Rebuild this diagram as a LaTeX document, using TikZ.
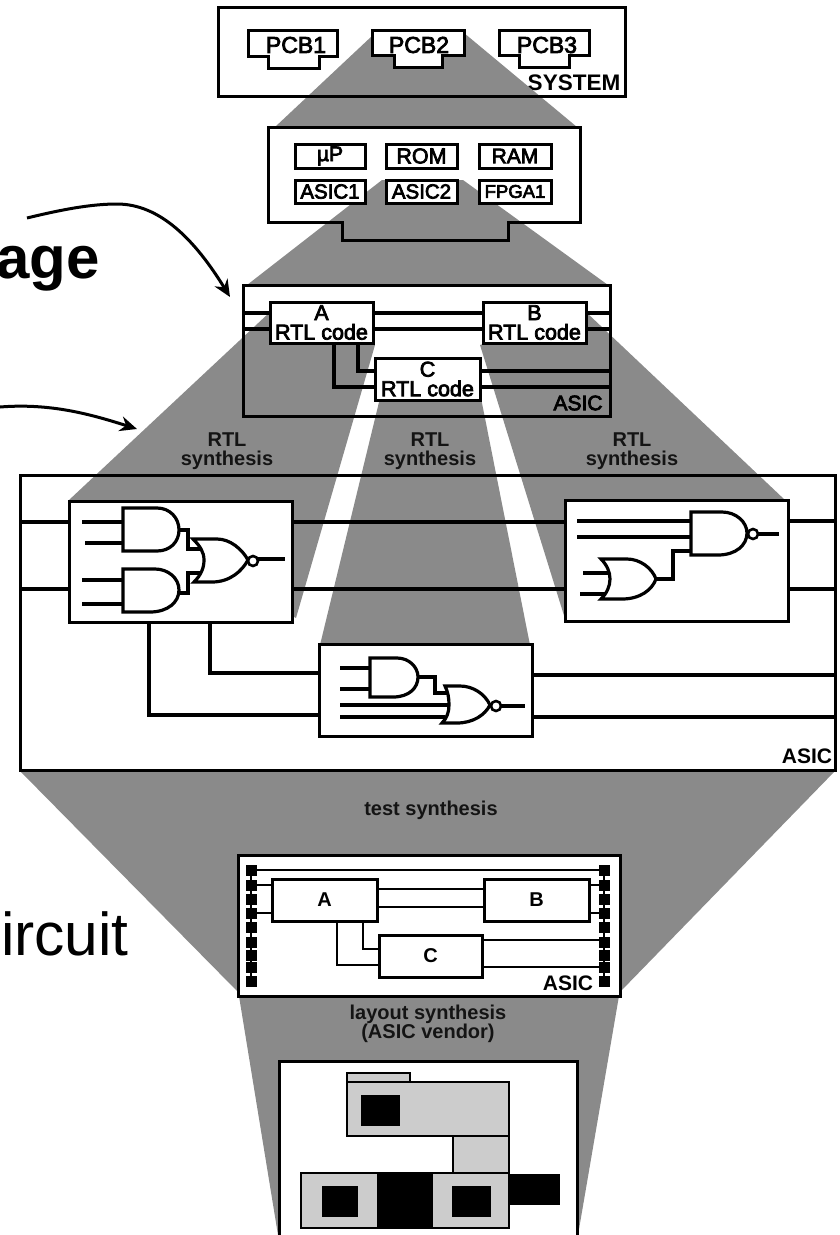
\documentclass[tikz,border=0pt]{standalone}
\usepackage{fontspec}
\setmainfont{Liberation Sans}
\newfontfamily\medf[FakeBold=3.5]{Liberation Sans}
\usetikzlibrary{arrows.meta,calc}
\definecolor{dith}{gray}{0.54}
\definecolor{cellg}{gray}{0.80}
\tikzset{
  cone/.style={fill=dith,draw=none},
  wire/.style={line width=3.2pt,line join=miter},
  thin wire/.style={line width=2.5pt,line join=miter},
  gate/.style={line width=3.2pt,fill=white,line join=miter},
  frame/.style={draw,fill=white,line width=3pt},
  edgeline/.style={line width=3pt,line join=miter},
  lbl/.style={inner sep=0pt,outer sep=0pt,font=\medf\fontsize{23}{19}\selectfont,align=center,text=black},
  dlbl/.style={inner sep=0pt,outer sep=0pt,font=\bfseries\fontsize{20}{19}\selectfont,align=center,text=black!92},
  pad/.style={fill=black,draw=none,minimum size=11pt,inner sep=0pt,outer sep=0pt},
  curvearrow/.style={line width=3pt,-{Stealth[length=17pt,width=15pt]}},
  cell/.style={draw,fill=cellg,line width=2pt},
  ink/.style={fill=black,draw=none}
}
% \bx{name}{x1}{y1}{x2}{y2}{extra}{text}
\newcommand{\bx}[7]{%
  \pgfmathsetmacro{\bxw}{#4-#2}\pgfmathsetmacro{\bxh}{#5-#3}%
  \node[frame,minimum width=\bxw pt,minimum height=\bxh pt,inner sep=0pt,outer sep=0pt,anchor=north west,#6] (#1) at (#2,#3) {#7};}
\begin{document}
\begin{tikzpicture}[x=1pt,y=-1pt]
\useasboundingbox (0,0) rectangle (840,1235);

% ---- left page fragments
\node[inner sep=0pt,anchor=base east,font=\bfseries\fontsize{60}{60}\selectfont] (frag1) at (100,278) {age};
\node[inner sep=0pt,anchor=base east,font=\fontsize{60.5}{60}\selectfont] (frag2) at (129,955) {ircuit};
\coordinate (arrA) at (27,218);
\coordinate (arrB) at (0,407);
\coordinate (tipA) at (230,297);
\coordinate (tipB) at (137,429);
\draw[curvearrow] (arrA) .. controls (60,210) and (90,204) .. (117,204) .. controls (160,204) and (195,240) .. (tipA);
\draw[curvearrow] (arrB) .. controls (50,403) and (90,414) .. (tipB);

% ---- SYSTEM
\bx{sys}{218}{7}{625}{96}{}{}
\node[lbl,font=\bfseries\fontsize{22.5}{22}\selectfont] (syslabel) at (574,83) {SYSTEM};
% cone system -> board
\fill[cone] (372,36) -- (464,33) -- (577,127) -- (275,127) -- cycle;
\draw[edgeline] (218,96) -- (625,96);
\draw[frame] (248,30) -- (337,30) -- (337,56) -- (319,56) -- (319,68) -- (268,68) -- (268,56) -- (248,56) -- cycle;
\draw[frame] (372,30) -- (464,30) -- (464,55) -- (442,55) -- (442,67) -- (394,67) -- (394,55) -- (372,55) -- cycle;
\draw[frame] (499,30) -- (589,30) -- (589,55) -- (569,55) -- (569,67) -- (519,67) -- (519,55) -- (499,55) -- cycle;
\node[lbl] (pcb1) at (296,45) {PCB1};
\node[lbl] (pcb2) at (419,45) {PCB2};
\node[lbl] (pcb3) at (547,45) {PCB3};

% ---- board
\draw[frame] (268,127) -- (580,127) -- (580,222) -- (508,222) -- (508,240) -- (342,240) -- (342,222) -- (268,222) -- cycle;
\fill[cone] (382,180) -- (463,180) -- (608,285) -- (247,285) -- cycle;
\draw[edgeline] (268,222) -- (342,222) -- (342,240) -- (508,240) -- (508,222) -- (580,222);
\bx{up}{295}{144}{365}{168}{}{\medf\fontsize{21}{21}\selectfont\textmu P}
\bx{rom}{386}{144}{457}{168}{}{\medf\fontsize{21.5}{21}\selectfont ROM}
\bx{ram}{479}{144}{551}{168}{}{\medf\fontsize{21}{21}\selectfont RAM}
\bx{asica}{295}{180}{365}{203}{}{\medf\fontsize{20.5}{21}\selectfont ASIC1}
\bx{asicb}{386}{180}{457}{203}{}{\medf\fontsize{20.5}{21}\selectfont ASIC2}
\bx{fpga}{479}{180}{551}{203}{}{\medf\fontsize{18.5}{21}\selectfont FPGA1}

% ---- RTL level: frame then cones
\bx{asic}{243}{285}{610}{416}{}{}
\fill[cone] (270,312) -- (375,345) -- (296,618) -- (69,500) -- cycle;
\fill[cone] (380,398) -- (481,398) -- (530,645) -- (320,645) -- cycle;
\fill[cone] (480,345) -- (586,312) -- (785,500) -- (566,622) -- cycle;
\draw[edgeline] (243,285) -- (243,416) -- (610,416) -- (610,285);

% ---- RTL synthesis labels
\node[dlbl] (rtl1) at (227,451) {RTL\\synthesis};
\node[dlbl] (rtl2) at (430,451) {RTL\\synthesis};
\node[dlbl] (rtl3) at (632,451) {RTL\\synthesis};

% ---- RTL blocks
\bx{A}{270}{302}{373}{343}{font=\medf\fontsize{21.5}{19.5}\selectfont,align=center}{A\\RTL code}
\bx{B}{483}{302}{586}{343}{font=\medf\fontsize{21.5}{19.5}\selectfont,align=center}{B\\RTL code}
\bx{C}{375}{358}{480}{400}{font=\medf\fontsize{21.5}{19.5}\selectfont,align=center}{C\\RTL code}
\draw[wire] (asic.west |- 0,313) -- (A.west |- 0,313);
\draw[wire] (asic.west |- 0,329) -- (A.west |- 0,329);
\draw[wire] (A.east |- 0,313) -- (B.west |- 0,313);
\draw[wire] (A.east |- 0,329) -- (B.west |- 0,329);
\draw[wire] (B.east |- 0,313) -- (asic.east |- 0,313);
\draw[wire] (B.east |- 0,329) -- (asic.east |- 0,329);
\draw[wire] (C.east |- 0,371) -- (asic.east |- 0,371);
\draw[wire] (C.east |- 0,387) -- (asic.east |- 0,387);
\draw[wire] (A.south -| 358,0) |- (C.west |- 0,371);
\draw[wire] (A.south -| 334,0) |- (C.west |- 0,387);
\node[lbl,font=\medf\fontsize{21}{21}\selectfont] (asiclabel) at (578,403) {ASIC};

% ---- gate level frame
\coordinate (bigNW) at (20,475);
\coordinate (bigSE) at (835,770);
\draw[edgeline] (bigNW) rectangle (bigSE);

\bx{g1}{69}{501}{292}{622}{}{}
\bx{g2}{565}{500}{788}{621}{}{}
\bx{g3}{319}{644}{532}{736}{}{}
\draw[wire] (bigNW |- 0,522) -- (g1.west |- 0,522);
\draw[wire] (bigNW |- 0,589) -- (g1.west |- 0,589);
\draw[wire] (g1.east |- 0,522) -- (g2.west |- 0,522);
\draw[wire] (g1.east |- 0,589) -- (g2.west |- 0,589);
\draw[wire] (g2.east |- 0,521) -- (bigSE |- 0,521);
\draw[wire] (g2.east |- 0,589) -- (bigSE |- 0,589);
\draw[wire] (g3.east |- 0,675) -- (bigSE |- 0,675);
\draw[wire] (g3.east |- 0,717) -- (bigSE |- 0,717);
\draw[wire] (g1.south -| 210,0) |- (g3.west |- 0,673);
\draw[wire] (g1.south -| 149,0) |- (g3.west |- 0,715);
\node[lbl,font=\bfseries\fontsize{21}{21}\selectfont] (biglabel) at (807,756) {ASIC};

% gates in g1
\draw[wire] (82,522) -- (123,522);
\draw[wire] (85,543) -- (123,543);
\draw[wire] (82,580) -- (123,580);
\draw[wire] (82,604) -- (123,604);
\draw[gate] (123,508) -- (157,508) .. controls (170,508) and (179,518) .. (179,530) .. controls (179,542) and (170,551) .. (157,551) -- (123,551) -- cycle;
\draw[gate] (123,569) -- (155,569) .. controls (168,569) and (179,578) .. (179,590) .. controls (179,602) and (168,612) .. (150,612) -- (123,612) -- cycle;
\draw[wire] (179,530) -- (188,530) -- (188,549) -- (200,549);
\draw[wire] (179,593) -- (188,593) -- (188,573) -- (202,573);
\draw[gate] (193,539) -- (217,539) .. controls (230,539) and (242,549) .. (248,560) .. controls (242,571) and (230,582) .. (212,582) -- (194,582) .. controls (201,575) and (204,568) .. (204,560) .. controls (204,552) and (200,546) .. (193,539) -- cycle;
\draw[line width=2.6pt,fill=white] (253,561) circle[radius=5];
\draw[wire] (258,559) -- (285,559);

% gates in g2
\draw[wire] (577,521) -- (691,521);
\draw[wire] (577,537) -- (691,537);
\draw[wire] (583,573) -- (610,573);
\draw[wire] (580,594) -- (608,594);
\draw[wire] (656,579) -- (673,579) -- (673,551) -- (691,551);
\draw[gate] (691,512) -- (722,512) .. controls (736,512) and (747,522) .. (747,533) .. controls (747,545) and (736,555) .. (718,555) -- (691,555) -- cycle;
\draw[line width=2.6pt,fill=white] (753,534) circle[radius=5];
\draw[wire] (758,534) -- (779,534);
\draw[gate] (601,559) -- (627,559) .. controls (640,559) and (652,568) .. (656,579) .. controls (652,590) and (640,599) .. (622,599) -- (601,599) .. controls (607,593) and (610,586) .. (610,579) .. controls (610,572) and (607,565) .. (601,559) -- cycle;

% gates in g3
\draw[wire] (340,668) -- (370,668);
\draw[wire] (340,689) -- (370,689);
\draw[wire] (340,705) -- (449,705);
\draw[wire] (340,717) -- (445,717);
\draw[wire] (418,677) -- (435,677) -- (435,693) -- (448,693);
\draw[gate] (370,658) -- (397,658) .. controls (409,658) and (418,667) .. (418,677) .. controls (418,688) and (409,697) .. (393,697) -- (370,697) -- cycle;
\draw[gate] (445,686) -- (460,686) .. controls (473,686) and (485,694) .. (490,705) .. controls (485,715) and (473,723) .. (457,723) -- (442,723) .. controls (447,718) and (449,712) .. (449,705) .. controls (449,698) and (448,692) .. (445,686) -- cycle;
\draw[line width=2.6pt,fill=white] (496,706) circle[radius=5];
\draw[wire] (501,706) -- (525,706);

% ---- test synthesis cone
\fill[cone] (20,771) -- (835,771) -- (620,992) -- (238,992) -- cycle;
\draw[edgeline] (bigNW |- bigSE) -- (bigSE);
\node[dlbl] (testlbl) at (431,810) {test synthesis};

% ---- layout cone
\fill[cone] (238,990) -- (620,990) -- (578,1235) -- (278,1235) -- cycle;

% ---- ASIC with scan pads
\bx{top}{238}{855}{620}{996}{}{}
\foreach \yy [count=\i] in {870,885,899,913,927,942,955,967,981}{
  \node[pad] (pl\i) at (251,\yy) {};
  \node[pad] (pr\i) at (604,\yy) {};
}
\draw[thin wire] (pl1) -- (pl9);
\draw[thin wire] (pr1) -- (pr9);
\draw[thin wire] (pl1) -- (pr1);
\bx{tA}{272}{879}{377}{921}{font=\bfseries\fontsize{20}{20}\selectfont}{A}
\bx{tB}{484}{879}{589}{921}{font=\bfseries\fontsize{20}{20}\selectfont}{B}
\bx{tC}{379}{935}{482}{977}{font=\bfseries\fontsize{20}{20}\selectfont}{C}
\draw[thin wire] (pl2) -- (tA.west |- pl2);
\draw[thin wire] (pl4) -- (tA.west |- pl4);
\draw[thin wire] (tA.east |- 0,889) -- (tB.west |- 0,889);
\draw[thin wire] (tA.east |- 0,907) -- (tB.west |- 0,907);
\draw[thin wire] (tB.east |- pr2) -- (pr2);
\draw[thin wire] (tB.east |- pr4) -- (pr4);
\draw[thin wire] (tC.east |- 0,940) -- (pr6 |- 0,940);
\draw[thin wire] (tC.east |- pr8) -- (pr8);
\draw[thin wire] (tA.south -| 363,0) |- (tC.west |- 0,949);
\draw[thin wire] (tA.south -| 337,0) |- (tC.west |- 0,965);
\node[lbl,font=\bfseries\fontsize{21}{21}\selectfont] (toplabel) at (568,983) {ASIC};

\node[dlbl] (laylbl) at (428,1024) {layout synthesis\\(ASIC vendor)};

% ---- layout
\draw[frame] (279,1240) -- (279,1061) -- (577,1061) -- (577,1240);
\draw[cell] (347,1073) rectangle (410,1082);
\draw[cell] (347,1082) rectangle (509,1136);
\draw[cell] (453,1136) rectangle (509,1173);
\draw[cell] (301,1173) rectangle (509,1228);
\fill[ink] (361,1095) rectangle (400,1126);
\fill[ink] (322,1186) rectangle (358,1217);
\fill[ink] (377,1173) rectangle (433,1229);
\fill[ink] (452,1186) rectangle (491,1217);
\fill[ink] (509,1174) rectangle (560,1205);
\end{tikzpicture}
\end{document}
